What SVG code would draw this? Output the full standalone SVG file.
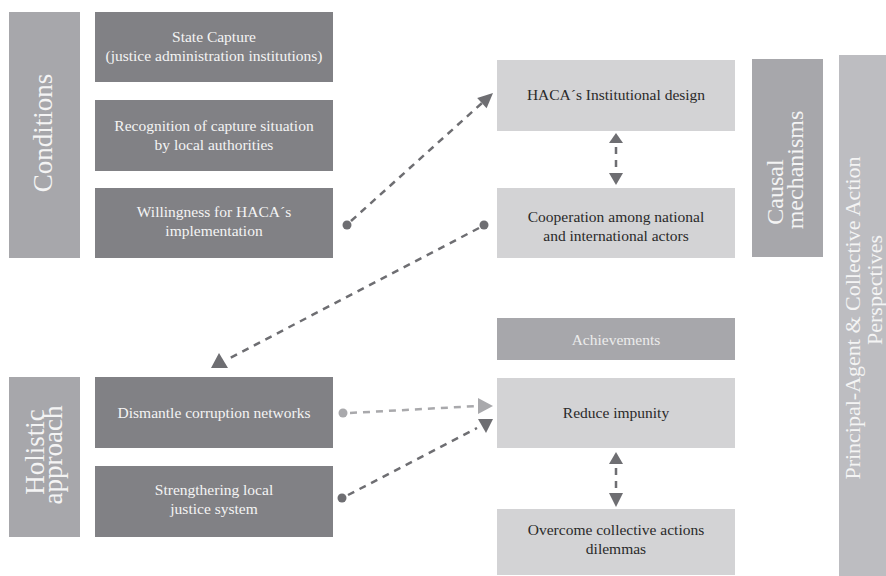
<svg xmlns="http://www.w3.org/2000/svg" width="886" height="576" viewBox="0 0 886 576">
<style>
.dark{fill:#818185}
.mid{fill:#a7a7ab}
.light{fill:#d3d3d5}
.pale{fill:#bdbdc1}
.t{font-family:"Liberation Serif","Times New Roman",serif;font-size:15.5px;text-anchor:middle}
.tw{fill:#f4f4f4}
.tk{fill:#2a2a2a}
.big{font-family:"Liberation Serif","Times New Roman",serif;text-anchor:middle;fill:#f4f4f4}
.c{fill:none;stroke:#6e6e72;stroke-width:2.5;stroke-dasharray:7 6}
.cl{fill:none;stroke:#a9a9ac;stroke-width:2.5;stroke-dasharray:7 6}
.ah{fill:#6e6e72}
.ahl{fill:#a9a9ac}
</style>
<rect width="886" height="576" fill="#ffffff"/>

<g id="conditions">
<rect class="mid" x="9" y="12" width="71" height="246"/>
<text class="big" font-size="27" transform="translate(52,133) rotate(-90)">Conditions</text>
</g>
<g id="state-capture">
<rect class="dark" x="95" y="12" width="238" height="70"/>
<text class="t tw" x="214" y="42">State Capture</text>
<text class="t tw" x="214" y="61">(justice administration institutions)</text>
</g>
<g id="recognition">
<rect class="dark" x="95" y="100" width="238" height="71"/>
<text class="t tw" x="214" y="131">Recognition of capture situation</text>
<text class="t tw" x="214" y="150">by local authorities</text>
</g>
<g id="willingness">
<rect class="dark" x="95" y="188" width="238" height="70"/>
<text class="t tw" x="214" y="217">Willingness for HACA´s</text>
<text class="t tw" x="214" y="236">implementation</text>
</g>

<g id="haca-design">
<rect class="light" x="497" y="60" width="238" height="71"/>
<text class="t tk" x="616" y="100">HACA´s Institutional design</text>
</g>
<g id="cooperation">
<rect class="light" x="497" y="188" width="238" height="70"/>
<text class="t tk" x="616" y="222">Cooperation among national</text>
<text class="t tk" x="616" y="241">and international actors</text>
</g>
<g id="causal-mechanisms">
<rect class="mid" x="752" y="59" width="71" height="198"/>
<text class="big" font-size="24" transform="translate(783,192) rotate(-90)">Causal</text>
<text class="big" font-size="24" transform="translate(803,170) rotate(-90)">mechanisms</text>
</g>
<g id="perspectives">
<rect class="pale" x="839" y="55" width="47" height="521"/>
<text class="big" font-size="22" transform="translate(860,318) rotate(-90)">Principal-Agent &amp; Collective Action</text>
<text class="big" font-size="22" transform="translate(882,290) rotate(-90)">Perspectives</text>
</g>

<g id="holistic-approach">
<rect class="mid" x="9" y="377" width="71" height="160"/>
<text class="big" font-size="27" transform="translate(44,452) rotate(-90)">Holistic</text>
<text class="big" font-size="27" transform="translate(62,455) rotate(-90)">approach</text>
</g>
<g id="dismantle">
<rect class="dark" x="95" y="377" width="238" height="71"/>
<text class="t tw" x="214" y="418">Dismantle corruption networks</text>
</g>
<g id="strengthening">
<rect class="dark" x="95" y="466" width="238" height="71"/>
<text class="t tw" x="214" y="495">Strengthering local</text>
<text class="t tw" x="214" y="514">justice system</text>
</g>

<g id="achievements">
<rect class="mid" x="497" y="318" width="238" height="42"/>
<text class="t" fill="#ececec" x="616" y="345">Achievements</text>
</g>
<g id="reduce-impunity">
<rect class="light" x="497" y="378" width="238" height="70"/>
<text class="t tk" x="616" y="418">Reduce impunity</text>
</g>
<g id="overcome">
<rect class="light" x="497" y="509" width="238" height="66"/>
<text class="t tk" x="616" y="535">Overcome collective actions</text>
<text class="t tk" x="616" y="554">dilemmas</text>
</g>

<g id="connectors">
<circle class="ah" cx="347" cy="225" r="4.5"/>
<path class="c" d="M351 221 L482 103"/>
<polygon class="ah" points="493,93 486.6,108.3 477.2,97.9"/>

<circle class="ah" cx="484" cy="225" r="4.5"/>
<path class="c" d="M479 228 L230 358"/>
<polygon class="ah" points="219,353 211,368 228,368"/>

<circle class="ahl" cx="343" cy="413" r="4.5"/>
<path class="cl" d="M350 413 L478 406"/>
<polygon class="ahl" points="493,406 478,398 478,414"/>

<circle class="ah" cx="342" cy="498" r="4.5"/>
<path class="c" d="M348 495 L477 428"/>
<polygon class="ah" points="478,419 493,419 486,433"/>

<polygon class="ah" points="616,133 609,143 623,143"/>
<path class="c" d="M616 145 L616 172" stroke-dasharray="6 5" stroke-dashoffset="-2"/>
<polygon class="ah" points="609,173 623,173 616,185"/>

<polygon class="ah" points="616,452 609,464 623,464"/>
<path class="c" d="M616 466 L616 492" stroke-dasharray="6 5" stroke-dashoffset="-2"/>
<polygon class="ah" points="609,493 623,493 616,507"/>
</g>
</svg>
